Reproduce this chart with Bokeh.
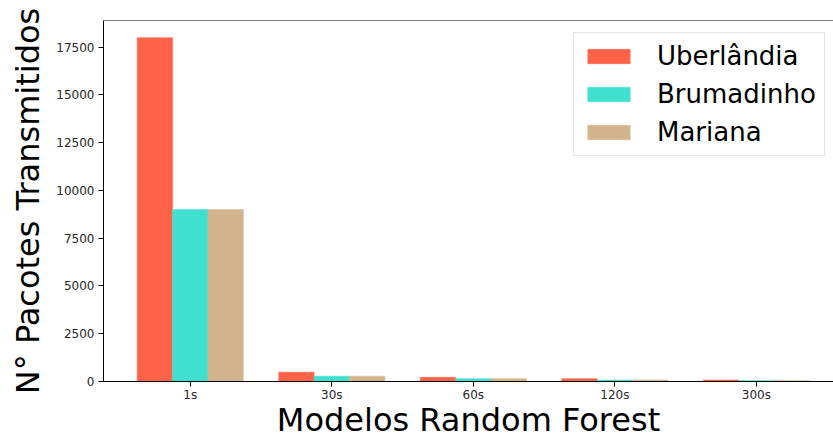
from bokeh.plotting import figure
from bokeh.models import ColumnDataSource, FixedTicker, Range1d, Legend, LegendItem, Span
from bokeh.transform import dodge
from bokeh.embed import file_html
from bokeh.resources import INLINE

categories = ["1s", "30s", "60s", "120s", "300s"]
uberlandia = [18000, 490, 220, 150, 80]
brumadinho = [9000, 280, 150, 80, 50]
mariana = [9000, 280, 150, 80, 50]
series_names = ["Uberlândia", "Brumadinho", "Mariana"]
y_ticks = [0, 2500, 5000, 7500, 10000, 12500, 15000, 17500]

colors = ["#ff6347", "#40e0d0", "#d2b48c"]
FONT = "DejaVu Sans"

src = ColumnDataSource(dict(
    x=list(range(len(categories))),
    u=uberlandia, b=brumadinho, m=mariana,
))

p = figure(width=833, height=441, output_backend="svg", toolbar_location=None,
           x_range=Range1d(-0.613, 4.545), y_range=Range1d(0, 18900),
           min_border_left=103, min_border_right=0, min_border_top=20, min_border_bottom=60)

renderers = []
for col, off, c in zip(["u", "b", "m"], [-0.25, 0.0, 0.25], colors):
    r = p.vbar(x=dodge("x", off), top=col, width=0.25, source=src,
               fill_color=c, line_color=c, line_width=0.5)
    renderers.append(r)

p.xgrid.visible = False
p.ygrid.visible = False
p.outline_line_color = None
p.add_layout(Span(location=18900, dimension="width", line_color="#000000", line_width=1))

p.xaxis.ticker = FixedTicker(ticks=list(range(len(categories))))
p.xaxis.major_label_overrides = {i: c for i, c in enumerate(categories)}
p.yaxis.ticker = FixedTicker(ticks=y_ticks)
p.yaxis.formatter.use_scientific = False

for ax in (p.xaxis, p.yaxis):
    ax.minor_tick_line_color = None
    ax.major_tick_in = 0
    ax.major_tick_out = 5
    ax.axis_line_color = "#000000"
    ax.major_tick_line_color = "#000000"
    ax.major_label_text_font = FONT
    ax.major_label_text_font_size = "12px"
    ax.major_label_text_color = "#262626"
    ax.axis_label_text_font = FONT
    ax.axis_label_text_font_size = "32px"
    ax.axis_label_text_font_style = "normal"
    ax.axis_label_text_color = "#000000"

p.xaxis.axis_label = "Modelos Random Forest"
p.yaxis.axis_label = "N° Pacotes Transmitidos"
p.xaxis.axis_label_standoff = -4
p.yaxis.axis_label_standoff = 6
p.xaxis.major_label_standoff = 1
p.yaxis.major_label_standoff = 4

legend = Legend(items=[LegendItem(label=n, renderers=[r]) for n, r in zip(series_names, renderers)],
                location=(470, 225))
legend.label_text_font = FONT
legend.label_text_font_size = "26px"
legend.label_text_color = "#000000"
legend.glyph_width = 53
legend.glyph_height = 18
legend.label_standoff = 22
legend.spacing = 8
legend.padding = 8
legend.margin = 0
legend.border_line_color = "#cccccc"
legend.border_line_width = 1
legend.background_fill_alpha = 0.8
p.add_layout(legend)

open("out.html", "w").write(file_html(p, INLINE))
